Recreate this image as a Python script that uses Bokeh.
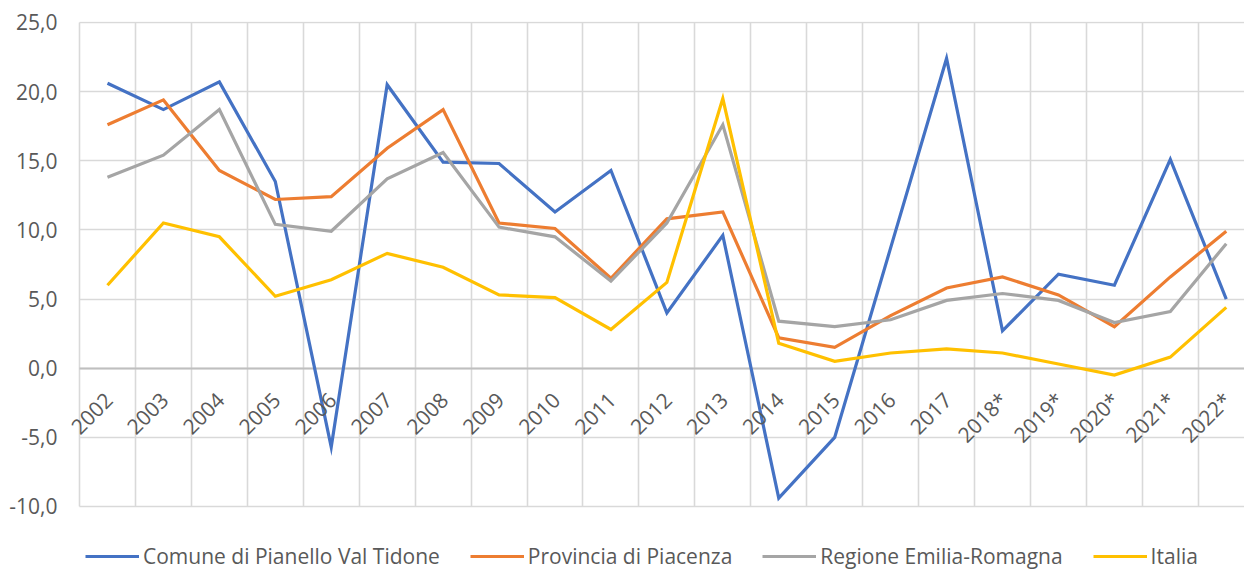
import math
from bokeh.plotting import figure
from bokeh.models import Range1d, FixedTicker, Legend, LegendItem, Grid, ColumnDataSource
from bokeh.core.properties import value
from bokeh.embed import file_html
from bokeh.resources import INLINE

years = ["2002", "2003", "2004", "2005", "2006", "2007", "2008", "2009", "2010", "2011",
         "2012", "2013", "2014", "2015", "2016", "2017", "2018*", "2019*", "2020*", "2021*", "2022*"]

comune = [20.6, 18.7, 20.7, 13.5, -5.7, 20.5, 14.9, 14.8, 11.3, 14.3,
          4.0, 9.6, -9.4, -5.0, 8.7, 22.4, 2.7, 6.8, 6.0, 15.1, 5.0]
provincia = [17.6, 19.4, 14.3, 12.2, 12.4, 15.9, 18.7, 10.5, 10.1, 6.5,
             10.8, 11.3, 2.2, 1.5, 3.8, 5.8, 6.6, 5.3, 3.0, 6.6, 9.9]
regione = [13.8, 15.4, 18.7, 10.4, 9.9, 13.7, 15.6, 10.2, 9.5, 6.3,
           10.5, 17.6, 3.4, 3.0, 3.5, 4.9, 5.4, 4.9, 3.3, 4.1, 9.0]
italia = [6.0, 10.5, 9.5, 5.2, 6.4, 8.3, 7.3, 5.3, 5.1, 2.8,
          6.2, 19.5, 1.8, 0.5, 1.1, 1.4, 1.1, 0.3, -0.5, 0.8, 4.4]

series_names = ["Comune di Pianello Val Tidone", "Provincia di Piacenza",
                "Regione Emilia-Romagna", "Italia"]
colors = ["#4472C4", "#ED7D31", "#A5A5A5", "#FFC000"]
y_ticks = [-10, -5, 0, 5, 10, 15, 20, 25]

FONT = "Open Sans"
TXT = "#595959"
FS = "21px"

xs = list(range(len(years)))
X0, X1 = -0.804, 20.326
GX0 = -0.5 - 0.018

p = figure(width=1244, height=570, output_backend="svg", toolbar_location=None,
           x_range=Range1d(X0, X1), y_range=Range1d(-14.63, 25.07),
           min_border_left=62, min_border_top=21, min_border_right=0, min_border_bottom=0)
p.outline_line_color = None
p.background_fill_color = "white"
p.border_fill_color = "white"

# grids
p.xaxis.visible = False
p.xgrid.ticker = FixedTicker(ticks=[i - 0.5 for i in range(len(years) + 1)])
p.xgrid.grid_line_color = "#d9d9d9"
p.xgrid.grid_line_width = 1.6
p.xgrid.cross_bounds = (-10, 25)
p.ygrid.ticker = FixedTicker(ticks=y_ticks)
p.ygrid.grid_line_color = "#d9d9d9"
p.ygrid.grid_line_width = 1.6
p.ygrid.cross_bounds = (-0.5, X1)

# zero (category axis) line
zero_grid = Grid(dimension=1, ticker=FixedTicker(ticks=[0]), grid_line_color="#bfbfbf",
                 grid_line_width=1.8, cross_bounds=(-0.5, X1))
p.add_layout(zero_grid)

yax = p.yaxis[0]
yax.ticker = FixedTicker(ticks=y_ticks)
yax.major_label_overrides = {t: f"{t:.1f}".replace(".", ",") for t in y_ticks}
yax.axis_line_color = None
yax.major_tick_line_color = None
yax.minor_tick_line_color = None
yax.major_tick_in = 0
yax.major_tick_out = 0
yax.major_label_standoff = 5
yax.major_label_text_font = FONT
yax.major_label_text_font_size = FS
yax.major_label_text_color = TXT

items = []
for name, vals, col in zip(series_names, [comune, provincia, regione, italia], colors):
    r = p.line(xs, vals, line_color=col, line_width=3.2, line_join="miter")
    items.append(LegendItem(label=name, renderers=[r]))

# category labels near zero line, rotated
lab_src = ColumnDataSource(dict(x=xs, y=[0] * len(xs), t=years))
p.text(x="x", y="y", text="t", source=lab_src, angle=math.pi / 4,
       text_align="right", text_baseline="middle", x_offset=1, y_offset=28,
       text_font=value(FONT), text_font_size=FS, text_color=TXT)

legend = Legend(items=items, orientation="horizontal", location=(23, 0),
                glyph_width=54, glyph_height=20, label_standoff=4, spacing=30,
                padding=0, margin=0, border_line_color=None, background_fill_alpha=0,
                label_text_font=FONT, label_text_font_size=FS, label_text_color=TXT)
p.add_layout(legend, "center")

open("out.html", "w").write(file_html(p, INLINE))
